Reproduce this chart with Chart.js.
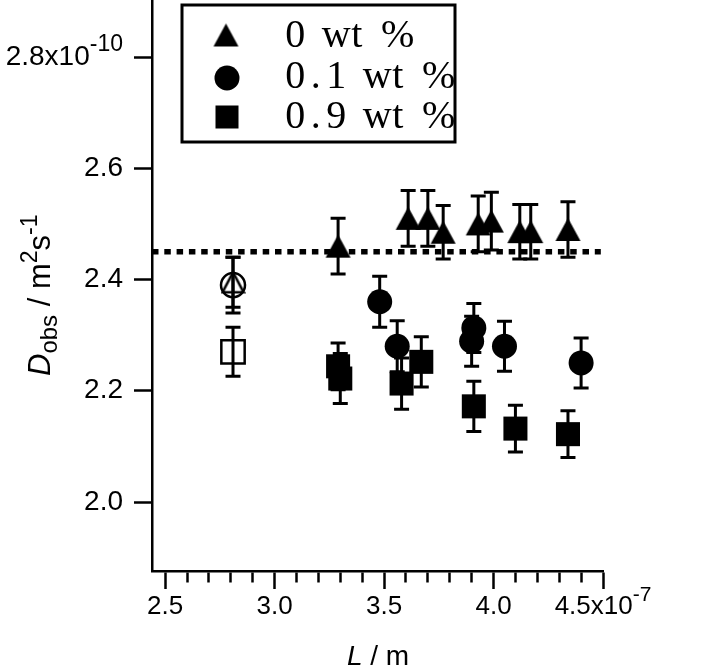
<!DOCTYPE html>
<html>
<head>
<meta charset="utf-8">
<script src="https://cdn.jsdelivr.net/npm/chart.js@4.4.0/dist/chart.umd.min.js"></script>
<style>
  html, body { margin: 0; padding: 0; background: #fff; }
</style>
</head>
<body>
<canvas id="chart" width="720" height="670"></canvas>
<script>
// L in units of 1e-7 m, D_obs in units of 1e-10 m^2 s^-1
const legendLabels = ['0 wt %', '0.1 wt %', '0.9 wt %'];

const wt0L   = [3.29, 3.61, 3.70, 3.77, 3.93, 3.99, 4.12, 4.17, 4.34];
const wt0D   = [2.46, 2.51, 2.51, 2.485, 2.50, 2.505, 2.486, 2.486, 2.49];
const wt0Err = [0.05, 0.05, 0.05, 0.048, 0.05, 0.052, 0.049, 0.049, 0.05];

const wt01L   = [3.48, 3.56, 3.91, 3.90, 4.05, 4.40];
const wt01D   = [2.36, 2.28, 2.313, 2.289, 2.28, 2.25];
const wt01Err = [0.046, 0.046, 0.044, 0.045, 0.045, 0.045];

const wt09L   = [3.29, 3.30, 3.58, 3.67, 3.91, 4.10, 4.34];
const wt09D   = [2.244, 2.222, 2.213, 2.252, 2.172, 2.132, 2.122];
const wt09Err = [0.042, 0.045, 0.046, 0.045, 0.045, 0.042, 0.042];

// open symbols (triangle, circle, square)
const openL   = [2.81, 2.81, 2.81];
const openD   = [2.395, 2.39, 2.27];
const openErr = [0.045, 0.05, 0.044];

const refLevel = 2.45;
const refLineL = [2.44, 4.49];

const xTickLabels = ['2.5', '3.0', '3.5', '4.0', '4.5'];
const yTickLabels = ['2.0', '2.2', '2.4', '2.6', '2.8'];
const xExponent = '-7';
const yExponent = '-10';

const sans = "'Liberation Sans', Arial, sans-serif";
const xTickFont = 26, xSupFont = 21;
const yTickFont = 28, ySupFont = 23;

const pts = (xs, ys) => xs.map((x, i) => ({ x: x, y: ys[i] }));
const isMajorX = v => Math.abs(v * 2 - Math.round(v * 2)) < 1e-6;

// triangle markers centred on their bounding box
function triangleImage(w, h, filled, lw) {
    const c = document.createElement('canvas');
    c.width = w + 4; c.height = h + 4;
    const g = c.getContext('2d');
    g.beginPath();
    g.moveTo(c.width / 2, 2);
    g.lineTo(c.width - 2, c.height - 2);
    g.lineTo(2, c.height - 2);
    g.closePath();
    if (filled) { g.fillStyle = '#000'; g.fill(); }
    else { g.lineWidth = lw; g.strokeStyle = '#000'; g.stroke(); }
    return c;
}
const triFilled = triangleImage(25, 23, true);
const triOpen = triangleImage(21, 20, false, 2.5);

const errorBars = {
    id: 'errorBars',
    beforeDatasetsDraw(chart) {
        const ctx = chart.ctx;
        const yScale = chart.scales.y;
        ctx.save();
        ctx.strokeStyle = '#000';
        ctx.lineWidth = 3;
        chart.data.datasets.forEach((ds, di) => {
            if (!ds.errors) return;
            const meta = chart.getDatasetMeta(di);
            meta.data.forEach((el, i) => {
                const v = ds.data[i].y, e = ds.errors[i];
                const top = yScale.getPixelForValue(v + e);
                const bot = yScale.getPixelForValue(v - e);
                ctx.beginPath();
                ctx.moveTo(el.x, top); ctx.lineTo(el.x, bot);
                ctx.moveTo(el.x - 7.5, top); ctx.lineTo(el.x + 7.5, top);
                ctx.moveTo(el.x - 7.5, bot); ctx.lineTo(el.x + 7.5, bot);
                ctx.stroke();
            });
        });
        ctx.restore();
    }
};

const decorations = {
    id: 'decorations',
    afterDraw(chart) {
        const ctx = chart.ctx;
        const xs = chart.scales.x, ys = chart.scales.y;
        ctx.save();
        ctx.fillStyle = '#000';

        // exponent tick labels
        const xv = parseFloat(xTickLabels[xTickLabels.length - 1]);
        const xpx = xs.getPixelForValue(xv);
        const xLabelY = xs.top + 18 + 2 + xTickFont * 1.2 / 2;
        ctx.font = xTickFont + 'px ' + sans;
        const mainX = xTickLabels[xTickLabels.length - 1] + 'x10';
        const wMain = ctx.measureText(mainX).width;
        ctx.font = xSupFont + 'px ' + sans;
        const wSup = ctx.measureText(xExponent).width;
        const sx = xpx - (wMain + wSup) / 2;
        ctx.textBaseline = 'middle';
        ctx.textAlign = 'left';
        ctx.font = xTickFont + 'px ' + sans;
        ctx.fillText(mainX, sx, xLabelY);
        ctx.font = xSupFont + 'px ' + sans;
        ctx.fillText(xExponent, sx + wMain, xLabelY - 11);

        const yv = parseFloat(yTickLabels[yTickLabels.length - 1]);
        const ypx = ys.getPixelForValue(yv);
        const right = ys.right - 18 - 11;
        ctx.textAlign = 'right';
        ctx.font = ySupFont + 'px ' + sans;
        const wSupY = ctx.measureText(yExponent).width;
        ctx.fillText(yExponent, right, ypx - 12);
        ctx.font = yTickFont + 'px ' + sans;
        ctx.fillText(yTickLabels[yTickLabels.length - 1] + 'x10', right - wSupY, ypx);

        // x title
        ctx.textAlign = 'left';
        ctx.textBaseline = 'alphabetic';
        ctx.font = 'italic 28px ' + sans;
        const wL = ctx.measureText('L').width;
        ctx.font = '28px ' + sans;
        const wRest = ctx.measureText(' / m').width;
        const tx = 378 - (wL + wRest) / 2;
        ctx.font = 'italic 28px ' + sans;
        ctx.fillText('L', tx, 665);
        ctx.font = '28px ' + sans;
        ctx.fillText(' / m', tx + wL, 665);

        // y title, rotated
        ctx.save();
        ctx.translate(50, 376);
        ctx.rotate(-Math.PI / 2);
        const parts = [
            { t: 'D', f: 'italic 31px ', dy: 0 },
            { t: 'obs', f: '24px ', dy: 7 },
            { t: ' / m', f: '31px ', dy: 0 },
            { t: '2', f: '23px ', dy: -13 },
            { t: 's', f: '31px ', dy: 0 },
            { t: '-1', f: '23px ', dy: -13 }
        ];
        let px = 0;
        parts.forEach(p => {
            ctx.font = p.f + sans;
            ctx.fillText(p.t, px, p.dy);
            px += ctx.measureText(p.t).width;
        });
        ctx.restore();

        // legend box
        ctx.lineWidth = 3;
        ctx.strokeStyle = '#000';
        ctx.strokeRect(182, 5, 273, 137);
        const rowY = [35, 78, 117];
        const baseY = [47, 88, 128];
        ctx.drawImage(triFilled, 226 - triFilled.width / 2, rowY[0] - triFilled.height / 2);
        ctx.beginPath();
        ctx.arc(227, rowY[1], 12.5, 0, Math.PI * 2);
        ctx.fill();
        ctx.fillRect(227 - 11.5, rowY[2] - 11.5, 23, 23);
        ctx.font = "40px 'Liberation Serif', 'Times New Roman', serif";
        ctx.textAlign = 'center';
        legendLabels.forEach((lbl, r) => {
            for (let i = 0; i < lbl.length; i++) {
                ctx.fillText(lbl[i], 285 + (i + 0.5) * 20.5, baseY[r]);
            }
        });
        ctx.restore();
    }
};

const ctx = document.getElementById('chart').getContext('2d');
new Chart(ctx, {
    type: 'scatter',
    data: {
        datasets: [
            {
                type: 'line',
                data: pts(refLineL, refLineL.map(() => refLevel)),
                borderColor: '#000',
                borderWidth: 5.5,
                borderDash: [6.5, 5.8],
                borderCapStyle: 'butt',
                pointRadius: 0,
                fill: false,
                order: 5
            },
            {
                label: legendLabels[0],
                data: pts(wt0L, wt0D),
                errors: wt0Err,
                pointStyle: triFilled,
                pointRadius: 13,
                order: 1
            },
            {
                label: legendLabels[1],
                data: pts(wt01L, wt01D),
                errors: wt01Err,
                pointStyle: 'circle',
                pointRadius: 12.5,
                backgroundColor: '#000',
                borderColor: '#000',
                borderWidth: 0,
                order: 1
            },
            {
                label: legendLabels[2],
                data: pts(wt09L, wt09D),
                errors: wt09Err,
                pointStyle: 'rect',
                pointRadius: 17,
                backgroundColor: '#000',
                borderColor: '#000',
                borderWidth: 0,
                order: 1
            },
            {
                data: pts(openL, openD),
                errors: openErr,
                pointStyle: [triOpen, 'circle', 'rect'],
                pointRadius: [12, 12, 16.5],
                backgroundColor: 'rgba(0,0,0,0)',
                borderColor: '#000',
                borderWidth: 2.5,
                order: 1
            }
        ]
    },
    options: {
        responsive: false,
        animation: false,
        devicePixelRatio: 1,
        layout: { autoPadding: false, padding: { top: 0, right: 117, left: 0, bottom: 0 } },
        plugins: { legend: { display: false }, tooltip: { enabled: false } },
        scales: {
            x: {
                type: 'linear',
                min: 2.44,
                max: 4.5,
                afterFit: scale => {
                    scale.height = 99;
                    scale.paddingLeft = 0; scale.paddingRight = 0;
                },
                border: { display: true, color: '#000', width: 2.5 },
                grid: {
                    drawOnChartArea: false,
                    drawTicks: true,
                    tickLength: 18,
                    tickWidth: 2.5,
                    tickColor: '#000',
                    tickBorderDash: c => (c.tick && isMajorX(c.tick.value)) ? [] : [10, 40]
                },
                ticks: {
                    stepSize: 0.1,
                    includeBounds: false,
                    autoSkip: false,
                    maxRotation: 0,
                    padding: 2,
                    color: '#000',
                    font: { family: sans, size: xTickFont },
                    callback: v => {
                        if (!isMajorX(v)) return '';
                        const lbl = v.toFixed(1);
                        if (lbl === xTickLabels[xTickLabels.length - 1]) return '';
                        return xTickLabels.includes(lbl) ? lbl : '';
                    }
                }
            },
            y: {
                type: 'linear',
                min: 1.876,
                max: 2.9025,
                afterFit: scale => {
                    scale.width = 152;
                    scale.paddingTop = 0; scale.paddingBottom = 0;
                },
                border: { display: true, color: '#000', width: 2.5 },
                grid: {
                    drawOnChartArea: false,
                    drawTicks: true,
                    tickLength: 18,
                    tickWidth: 2.5,
                    tickColor: '#000'
                },
                ticks: {
                    stepSize: 0.2,
                    includeBounds: false,
                    padding: 11,
                    color: '#000',
                    font: { family: sans, size: yTickFont },
                    callback: v => {
                        const lbl = v.toFixed(1);
                        if (lbl === yTickLabels[yTickLabels.length - 1]) return '';
                        return yTickLabels.includes(lbl) ? lbl : '';
                    }
                }
            }
        }
    },
    plugins: [errorBars, decorations]
});
</script>
</body>
</html>
